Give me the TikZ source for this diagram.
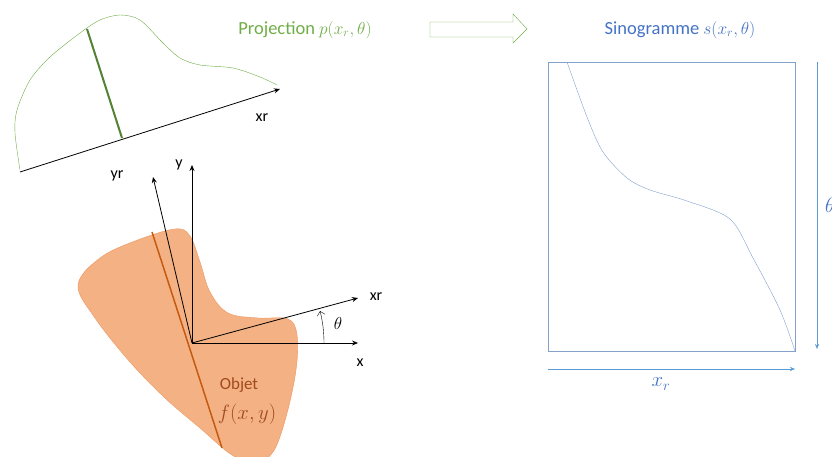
\documentclass[tikz,border=0pt]{standalone}
\usepackage{fontspec}
\setmainfont{Carlito}
\usetikzlibrary{arrows.meta}
\definecolor{projgreen}{RGB}{112,173,71}
\definecolor{darkgreen}{RGB}{84,130,53}
\definecolor{sinoblue}{RGB}{68,114,196}
\definecolor{boxblue}{RGB}{132,160,205}
\definecolor{axisblue}{RGB}{91,155,213}
\definecolor{objfill}{RGB}{244,177,131}
\definecolor{objline}{RGB}{237,150,95}
\definecolor{objdark}{RGB}{197,90,17}
\definecolor{objtext}{RGB}{160,75,30}
\tikzset{
  lbl/.style={font=\fontsize{16}{18}\selectfont},
  titre/.style={font=\fontsize{18.5}{21}\selectfont},
  mth/.style={font=\fontsize{20}{22}\selectfont},
  axe/.style={thick,-{Stealth[length=6pt,width=5pt]}},
  bluaxe/.style={axisblue,-{Stealth[length=5pt,width=4pt]}},
}
\begin{document}
\begin{tikzpicture}[x=1pt,y=-1pt]
  \useasboundingbox (0,0) rectangle (832,457);
  % projection
  \draw[projgreen] plot[smooth] coordinates {(20,170) (15,133) (17,110) (30,80) (50,57) (80,33) (100,20) (120,15) (140,20) (163,43) (180,58) (200,65) (233,68) (260,77) (277,85)};
  \draw[darkgreen, line width=2pt] (87,29) -- (122,138);
  \coordinate (p0) at (20,172);
  \coordinate (p1) at (280,89);
  \draw[axe] (p0) -- (p1);
  \node[lbl] (xrp) at (262,118) {xr};
  \node[titre, projgreen] (proj) at (305,30) {Projection $p(x_r,\theta)$};
  \draw[projgreen] (430,22) -- (513,22) -- (513,14) -- (527,29) -- (513,43) -- (513,37) -- (430,37) -- cycle;
  % objet
  \draw[objline, fill=objfill] plot[smooth cycle, tension=0.6] coordinates {(78,285) (100,258) (135,241) (175,229) (190,236) (200,262) (210,292) (228,313) (258,318) (288,319) (297,335) (296,370) (286,417) (273,452) (255,462) (232,455) (200,428) (165,398) (130,362) (95,318)};
  \draw[objdark, line width=1.5pt] (152,232) -- (222,448);
  \node[lbl, font=\fontsize{17}{19}\selectfont, objtext] (obj) at (239,385) {Objet};
  \node[mth, objtext] (fxy) at (247,414) {$f(x,y)$};
  % axes
  \coordinate (O) at (192,343);
  \draw[axe] (O) -- (192,165) coordinate (ya);
  \draw[axe] (O) -- (153,177) coordinate (yra);
  \draw[axe] (O) -- (358,298) coordinate (xra);
  \draw[axe] (O) -- (358,343) coordinate (xa);
  \node[lbl] (ylab) at (179,165) {y};
  \node[lbl] (yrlab) at (117,176) {yr};
  \node[lbl] (xrlab) at (376,297) {xr};
  \node[lbl] (xlab) at (360,363) {x};
  \draw[-{Straight Barb[length=4pt]}] (O) ++(0:132) arc (0:-14:132);
  \node[font=\fontsize{18}{20}\selectfont] (th) at (338,323) {$\theta$};
  % sinogramme
  \node[titre, sinoblue] (sino) at (680,30) {Sinogramme $s(x_r,\theta)$};
  \draw[boxblue] (548,62) rectangle (795,351);
  \draw[boxblue] plot[smooth] coordinates {(567,62) (587,117) (603,152) (627,178) (650,190) (687,201) (730,219) (753,258) (780,310) (795,351)};
  \draw[bluaxe] (548,369) -- (795,369);
  \node[mth, sinoblue] (xr) at (661,384) {$x_r$};
  \draw[bluaxe] (817,62) -- (817,349);
  \node[mth, sinoblue, anchor=west, inner sep=0pt] (thr) at (825,205) {$\theta$};
\end{tikzpicture}
\end{document}
